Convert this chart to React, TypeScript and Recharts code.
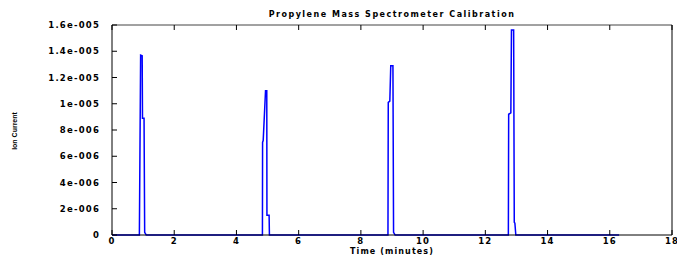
import React from 'react';
import { LineChart, Line, XAxis, YAxis } from 'recharts';

// time (minutes) and ion current
const times = [
  0, 0.88, 0.92, 0.97, 0.98, 1.03, 1.05, 1.1,
  4.835, 4.84, 4.86, 4.935, 4.975, 4.98, 5.05, 5.06,
  8.87, 8.88, 8.93, 8.96, 9.03, 9.05, 9.1,
  12.74, 12.75, 12.82, 12.84, 12.91, 12.93, 12.95, 12.98,
  16.3,
];
const currents = [
  0, 0, 1.37e-5, 1.365e-5, 0.89e-5, 0.89e-5, 0.02e-5, 0,
  0, 0.706e-5, 0.72e-5, 1.1e-5, 1.1e-5, 0.15e-5, 0.15e-5, 0,
  0, 1.01e-5, 1.02e-5, 1.29e-5, 1.29e-5, 0.02e-5, 0,
  0, 0.92e-5, 0.93e-5, 1.562e-5, 1.562e-5, 0.097e-5, 0.09e-5, 0,
  0,
];
const xTicks = [0, 2, 4, 6, 8, 10, 12, 14, 16, 18];
const yTicks = [0, 2e-6, 4e-6, 6e-6, 8e-6, 1e-5, 1.2e-5, 1.4e-5, 1.6e-5];
const yTickLabels = ['0', '2e-006', '4e-006', '6e-006', '8e-006', '1e-005', '1.2e-005', '1.4e-005', '1.6e-005'];

const data = times.map((t, i) => ({ t, current: currents[i] }));

const font = '"DejaVu Sans", Verdana, sans-serif';
const textStyle = { fontSize: 8.5, fontWeight: 700, fill: '#000', fontFamily: font, letterSpacing: 1.2 };
const TICK = 5;

// bottom axis: tickSize 0, tickMargin 0 -> y is the axis line
const BottomTick = (props: any) => {
  const { x, y, payload } = props;
  return (
    <g>
      <line x1={x} y1={y} x2={x} y2={y - TICK} stroke="#000" />
      <text x={x} y={y + 8.5} textAnchor="middle" style={textStyle}>{payload.value}</text>
    </g>
  );
};

const TopTick = (props: any) => {
  const { x, y } = props;
  return <line x1={x} y1={y} x2={x} y2={y + TICK} stroke="#000" />;
};

// left axis: tickSize 0, tickMargin 12 -> axis line at x + 12
const LeftTick = (props: any) => {
  const { x, y, payload } = props;
  const label = yTickLabels[yTicks.indexOf(payload.value)] ?? String(payload.value);
  return (
    <g>
      <line x1={x + 12} y1={y} x2={x + 12 + TICK} y2={y} stroke="#000" />
      <text x={x} y={y + 3} textAnchor="end" style={textStyle}>{label}</text>
    </g>
  );
};

const RightTick = (props: any) => {
  const { x, y } = props;
  return <line x1={x} y1={y} x2={x - TICK} y2={y} stroke="#000" />;
};

export default function App() {
  return (
    <div style={{ position: 'absolute', left: 0, top: 0, width: 677, height: 257, background: '#fff' }}>
      <LineChart width={677} height={257} data={data} margin={{ top: 24, right: 4, left: 0, bottom: 0 }}>
        <XAxis
          dataKey="t"
          type="number"
          domain={[0, 18]}
          ticks={xTicks}
          height={22}
          tickSize={0}
          tickMargin={0}
          tickLine={false}
          stroke="#000"
          tick={<BottomTick />}
          interval={0}
        />
        <XAxis
          xAxisId="top"
          dataKey="t"
          type="number"
          orientation="top"
          domain={[0, 18]}
          ticks={xTicks}
          height={1}
          tickSize={0}
          tickMargin={0}
          tickLine={false}
          tick={<TopTick />}
          interval={0}
          stroke="#444"
        />
        <YAxis
          type="number"
          domain={[0, 1.6e-5]}
          ticks={yTicks}
          width={112}
          tickSize={0}
          tickMargin={12}
          tickLine={false}
          stroke="#000"
          interval={0}
          tick={<LeftTick />}
        />
        <YAxis
          yAxisId="right"
          type="number"
          orientation="right"
          domain={[0, 1.6e-5]}
          ticks={yTicks}
          width={1}
          tickSize={0}
          tickMargin={0}
          tickLine={false}
          tick={<RightTick />}
          interval={0}
          stroke="#000"
        />
        <text x={392} y={17} textAnchor="middle" style={{ ...textStyle, fontSize: 8, letterSpacing: 1.5 }}>
          Propylene Mass Spectrometer Calibration
        </text>
        <text x={392} y={254} textAnchor="middle" style={{ ...textStyle, fontSize: 8, letterSpacing: 1.1 }}>
          Time (minutes)
        </text>
        <text
          x={17}
          y={131}
          textAnchor="middle"
          transform="rotate(-90 17 131)"
          style={{ fontSize: 7, fontWeight: 700, fill: '#000', fontFamily: 'Arial, "Liberation Sans", sans-serif' }}
        >
          Ion Current
        </text>
        <Line type="linear" dataKey="current" stroke="#0000ff" strokeWidth={1.5} dot={false} isAnimationActive={false} />
      </LineChart>
    </div>
  );
}
